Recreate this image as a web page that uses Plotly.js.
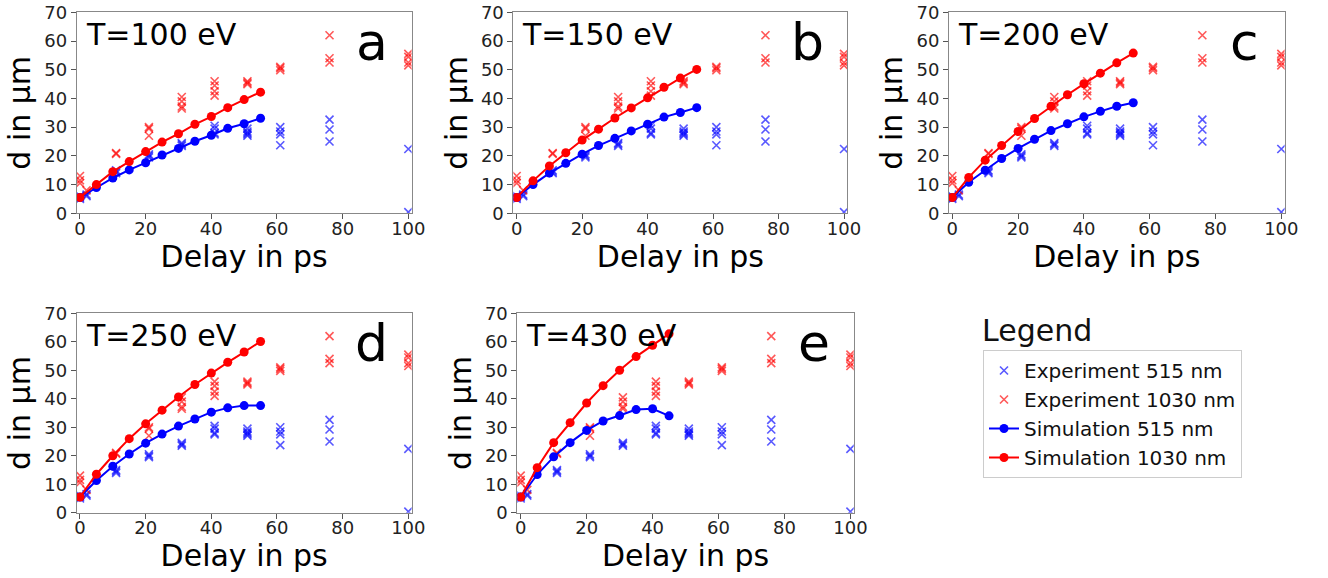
<!DOCTYPE html>
<html>
<head>
<meta charset="utf-8">
<script src="https://cdn.plot.ly/plotly-3.0.1.min.js"></script>
<style>html,body{margin:0;padding:0;background:#fff;}#chart{width:1328px;height:578px;}</style>
</head>
<body>
<div id="chart"></div>
<script>
// ---- data ----
const panelLabels = ["a", "b", "c", "d", "e"];
const temperatures = ["T=100 eV", "T=150 eV", "T=200 eV", "T=250 eV", "T=430 eV"];
const xTicks = [0, 20, 40, 60, 80, 100];
const yTicks = [0, 10, 20, 30, 40, 50, 60, 70];

// experiment (same in every panel)
const exp515X = [0,0,0,2,2,11,11,11,21,21,21,31,31,31,41,41,41,41,51,51,51,51,51,61,61,61,61,76,76,76,100,100];
const exp515Y = [6,5.5,5,6.5,6,15,14.5,14,20.5,20,19.5,24.5,24,23.5,30.5,29.5,28,27.5,29.5,28.5,28,27.5,27,30,28.5,27.5,23.7,32.6,29.2,25,22.4,0.4];
const exp1030X = [0,0,0,2,11,11,21,21,21,31,31,31,31,41,41,41,41,51,51,51,61,61,61,76,76,76,100,100,100,100];
const exp1030Y = [13,11.5,10.5,8,21,20.7,30,29.5,27,40.5,39,37.2,36.5,46,44.5,42.5,41,46,45.5,45,51,50.5,49.8,62,54,52.5,55.5,54.5,52.5,51.5];

// simulations
const simX = [0,5,10,15,20,25,30,35,40,45,50,55];
const simXe = [0,5,10,15,20,25,30,35,40,45];
const sim1030_100 = [5.5,10,14.5,18,21.5,24.8,27.7,31,33.7,36.8,39.6,42.2];
const sim515_100  = [5.5,9,12.3,15.1,17.6,20.3,22.6,25.1,27.2,29.6,31.2,33.1];
const sim1030_150 = [5.5,11.3,16.5,21.1,25.5,29.3,33.2,36.7,40.2,43.9,47.1,50.1];
const sim515_150  = [5.5,10,14,17.4,20.6,23.6,26.1,28.7,31,33.5,35.1,36.8];
const sim1030_200 = [5.5,12.5,18.5,23.6,28.5,33,37.3,41.3,45.1,48.8,52.4,55.8];
const sim515_200  = [5.5,10.8,15,19.1,22.6,25.8,28.8,31.2,33.6,35.5,37.3,38.5];
const sim1030_250 = [5.5,13.5,20,26,31.2,36,40.6,45,49,52.8,56.4,60.1];
const sim515_250  = [5.5,11.3,16.3,20.6,24.4,27.6,30.4,32.9,35.3,36.8,37.6,37.6];
const sim1030_430 = [5.5,15.8,24.6,31.6,38.5,44.6,50,54.8,58.8,62.8];
const sim515_430  = [5.5,13.4,19.6,24.6,28.9,32.2,34.1,36.2,36.5,34];

const sims = [
  {x: simX, b: sim515_100, r: sim1030_100},
  {x: simX, b: sim515_150, r: sim1030_150},
  {x: simX, b: sim515_200, r: sim1030_200},
  {x: simX, b: sim515_250, r: sim1030_250},
  {x: simXe, b: sim515_430, r: sim1030_430}
];

// ---- layout geometry (pixels) ----
const W = 1328, H = 578;
const xDom = [[76.7, 411.6], [513.4, 847.3], [949, 1284.6], [76.7, 411.6], [517.4, 853.7]];
const yDom = [[12.3, 213.3], [12.3, 213.3], [12.3, 213.3], [313.3, 512.7], [313.3, 512.7]];

const BLUE = "#0000ff", RED = "#ff0000";
const traces = [];
const layout = {
  width: W, height: H,
  margin: {l: 0, r: 0, t: 0, b: 0},
  paper_bgcolor: "#fff", plot_bgcolor: "#fff",
  font: {family: "DejaVu Sans", color: "#000"},
  showlegend: true,
  legend: {
    x: 983 / W, y: 1 - 350 / H, xanchor: "left", yanchor: "top",
    font: {size: 20, family: "DejaVu Sans", color: "#111"},
    bordercolor: "#cccccc", borderwidth: 1, bgcolor: "#fff",
    tracegroupgap: 0
  },
  annotations: [
    {text: "Legend", xref: "paper", yref: "paper", x: 980 / W, y: 1 - 330 / H,
     xanchor: "left", yanchor: "middle", showarrow: false,
     font: {size: 30, family: "DejaVu Sans", color: "#111"}}
  ]
};

for (let i = 0; i < 5; i++) {
  const n = i === 0 ? "" : String(i + 1);
  const xa = "x" + n, ya = "y" + n;
  const first = i === 0;
  traces.push({
    type: "scatter", mode: "markers", x: exp515X, y: exp515Y, xaxis: xa, yaxis: ya,
    name: "Experiment 515 nm", legendgroup: "e515", showlegend: first,
    marker: {symbol: "x-thin", size: 8, color: BLUE, opacity: 0.65, line: {color: BLUE, width: 1.6}}
  });
  traces.push({
    type: "scatter", mode: "markers", x: exp1030X, y: exp1030Y, xaxis: xa, yaxis: ya,
    name: "Experiment 1030 nm", legendgroup: "e1030", showlegend: first,
    marker: {symbol: "x-thin", size: 8, color: RED, opacity: 0.65, line: {color: RED, width: 1.6}}
  });
  traces.push({
    type: "scatter", mode: "lines+markers", x: sims[i].x, y: sims[i].b, xaxis: xa, yaxis: ya,
    name: "Simulation 515 nm", legendgroup: "s515", showlegend: first,
    line: {color: BLUE, width: 2}, marker: {symbol: "circle", size: 9, color: BLUE}
  });
  traces.push({
    type: "scatter", mode: "lines+markers", x: sims[i].x, y: sims[i].r, xaxis: xa, yaxis: ya,
    name: "Simulation 1030 nm", legendgroup: "s1030", showlegend: first,
    line: {color: RED, width: 2}, marker: {symbol: "circle", size: 9, color: RED}
  });

  const axCommon = {
    showline: true, mirror: true, linecolor: "#888", linewidth: 1,
    ticks: "outside", ticklen: 5, tickcolor: "#555", tickwidth: 1,
    showgrid: false, zeroline: false,
    tickfont: {size: 18, family: "DejaVu Sans", color: "#222"}
  };
  layout["xaxis" + n] = Object.assign({}, axCommon, {
    domain: [xDom[i][0] / W, xDom[i][1] / W], range: [-1, 101],
    tickvals: xTicks, anchor: ya, ticklabelstandoff: -6,
    title: {text: "Delay in ps", font: {size: 30, family: "DejaVu Sans", color: "#000"}, standoff: 0}
  });
  layout["yaxis" + n] = Object.assign({}, axCommon, {
    domain: [1 - yDom[i][1] / H, 1 - yDom[i][0] / H], range: [0, 70],
    tickvals: yTicks, anchor: xa,
    title: {text: "d in µm", font: {size: 30, family: "DejaVu Sans", color: "#000"}, standoff: 4}
  });
  layout.annotations.push({
    text: temperatures[i], xref: "paper", yref: "paper",
    x: (xDom[i][0] + 7) / W, y: 1 - (yDom[i][0] + 22) / H,
    xanchor: "left", yanchor: "middle", showarrow: false,
    font: {size: 30, family: "DejaVu Sans", color: "#000"}
  });
  layout.annotations.push({
    text: panelLabels[i], xref: "paper", yref: "paper",
    x: (xDom[i][1] - 40) / W, y: 1 - (yDom[i][0] + 30) / H,
    xanchor: "center", yanchor: "middle", showarrow: false,
    font: {size: 52, family: "DejaVu Sans", color: "#000"}
  });
}

Plotly.newPlot("chart", traces, layout, {displayModeBar: false, staticPlot: true});
</script>
</body>
</html>
